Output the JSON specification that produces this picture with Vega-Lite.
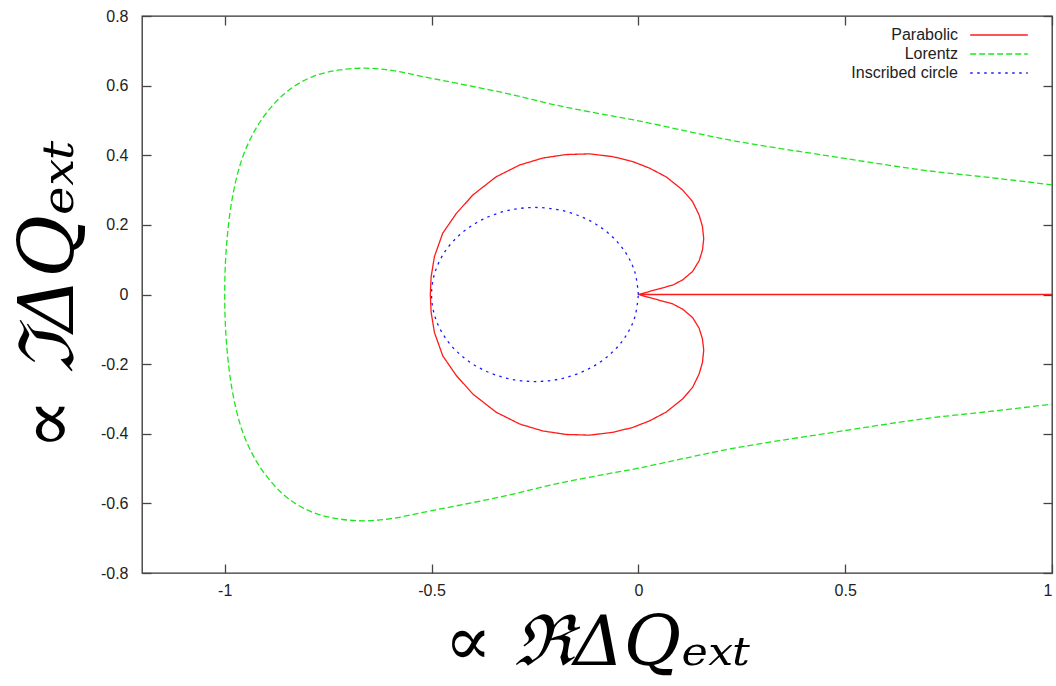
{
  "$schema": "https://vega.github.io/schema/vega-lite/v6.json",
  "width": 910,
  "height": 557,
  "autosize": "none",
  "padding": {"left": 142, "top": 16, "right": 4, "bottom": 113},
  "background": "white",
  "config": {
    "view": {"stroke": "#333", "strokeWidth": 1.3},
    "axis": {
      "domain": false,
      "grid": false,
      "tickSize": -9,
      "tickColor": "#444",
      "tickWidth": 1.3,
      "labelFont": "Liberation Sans",
      "labelFontSize": 16,
      "labelColor": "#222",
      "titleFont": "DejaVu Serif",
      "titleFontWeight": "normal",
      "titleFontStyle": "italic",
      "titleColor": "#000"
    },
    "legend": {
      "padding": 0,
      "symbolType": "M-3.6,0H3.6",
      "symbolSize": 256,
      "labelAlign": "right",
      "labelOffset": -50,
      "labelFont": "Liberation Sans",
      "labelFontSize": 16,
      "labelColor": "#222",
      "rowPadding": 2
    }
  },
  "data": {
    "values": [
      {"series": "Parabolic", "i": 0, "x": 1.0, "y": 0},
      {"series": "Parabolic", "i": 1, "x": 0.0, "y": 0},
      {"series": "Parabolic", "i": 2, "x": 0.04, "y": 0.013},
      {"series": "Parabolic", "i": 3, "x": 0.083, "y": 0.027},
      {"series": "Parabolic", "i": 4, "x": 0.107, "y": 0.042},
      {"series": "Parabolic", "i": 5, "x": 0.131, "y": 0.066},
      {"series": "Parabolic", "i": 6, "x": 0.147, "y": 0.097},
      {"series": "Parabolic", "i": 7, "x": 0.155, "y": 0.128},
      {"series": "Parabolic", "i": 8, "x": 0.158, "y": 0.16},
      {"series": "Parabolic", "i": 9, "x": 0.155, "y": 0.195},
      {"series": "Parabolic", "i": 10, "x": 0.147, "y": 0.228},
      {"series": "Parabolic", "i": 11, "x": 0.131, "y": 0.267},
      {"series": "Parabolic", "i": 12, "x": 0.107, "y": 0.3},
      {"series": "Parabolic", "i": 13, "x": 0.067, "y": 0.338},
      {"series": "Parabolic", "i": 14, "x": 0.027, "y": 0.363},
      {"series": "Parabolic", "i": 15, "x": -0.014, "y": 0.382},
      {"series": "Parabolic", "i": 16, "x": -0.062, "y": 0.396},
      {"series": "Parabolic", "i": 17, "x": -0.118, "y": 0.404},
      {"series": "Parabolic", "i": 18, "x": -0.175, "y": 0.402},
      {"series": "Parabolic", "i": 19, "x": -0.231, "y": 0.392},
      {"series": "Parabolic", "i": 20, "x": -0.287, "y": 0.372},
      {"series": "Parabolic", "i": 21, "x": -0.344, "y": 0.338},
      {"series": "Parabolic", "i": 22, "x": -0.4, "y": 0.286},
      {"series": "Parabolic", "i": 23, "x": -0.44, "y": 0.233},
      {"series": "Parabolic", "i": 24, "x": -0.473, "y": 0.176},
      {"series": "Parabolic", "i": 25, "x": -0.493, "y": 0.109},
      {"series": "Parabolic", "i": 26, "x": -0.501, "y": 0.051},
      {"series": "Parabolic", "i": 27, "x": -0.503, "y": 0},
      {"series": "Parabolic", "i": 28, "x": -0.501, "y": -0.051},
      {"series": "Parabolic", "i": 29, "x": -0.493, "y": -0.109},
      {"series": "Parabolic", "i": 30, "x": -0.473, "y": -0.176},
      {"series": "Parabolic", "i": 31, "x": -0.44, "y": -0.233},
      {"series": "Parabolic", "i": 32, "x": -0.4, "y": -0.286},
      {"series": "Parabolic", "i": 33, "x": -0.344, "y": -0.338},
      {"series": "Parabolic", "i": 34, "x": -0.287, "y": -0.372},
      {"series": "Parabolic", "i": 35, "x": -0.231, "y": -0.392},
      {"series": "Parabolic", "i": 36, "x": -0.175, "y": -0.402},
      {"series": "Parabolic", "i": 37, "x": -0.118, "y": -0.404},
      {"series": "Parabolic", "i": 38, "x": -0.062, "y": -0.396},
      {"series": "Parabolic", "i": 39, "x": -0.014, "y": -0.382},
      {"series": "Parabolic", "i": 40, "x": 0.027, "y": -0.363},
      {"series": "Parabolic", "i": 41, "x": 0.067, "y": -0.338},
      {"series": "Parabolic", "i": 42, "x": 0.107, "y": -0.3},
      {"series": "Parabolic", "i": 43, "x": 0.131, "y": -0.267},
      {"series": "Parabolic", "i": 44, "x": 0.147, "y": -0.228},
      {"series": "Parabolic", "i": 45, "x": 0.155, "y": -0.195},
      {"series": "Parabolic", "i": 46, "x": 0.158, "y": -0.16},
      {"series": "Parabolic", "i": 47, "x": 0.155, "y": -0.128},
      {"series": "Parabolic", "i": 48, "x": 0.147, "y": -0.097},
      {"series": "Parabolic", "i": 49, "x": 0.131, "y": -0.066},
      {"series": "Parabolic", "i": 50, "x": 0.107, "y": -0.042},
      {"series": "Parabolic", "i": 51, "x": 0.083, "y": -0.027},
      {"series": "Parabolic", "i": 52, "x": 0.04, "y": -0.013},
      {"series": "Parabolic", "i": 53, "x": 0.0, "y": 0},

      {"series": "Lorentz", "i": 0, "x": 1.0, "y": 0.315},
      {"series": "Lorentz", "i": 1, "x": 0.85, "y": 0.336},
      {"series": "Lorentz", "i": 2, "x": 0.703, "y": 0.355},
      {"series": "Lorentz", "i": 3, "x": 0.58, "y": 0.376},
      {"series": "Lorentz", "i": 4, "x": 0.461, "y": 0.398},
      {"series": "Lorentz", "i": 5, "x": 0.34, "y": 0.42},
      {"series": "Lorentz", "i": 6, "x": 0.22, "y": 0.444},
      {"series": "Lorentz", "i": 7, "x": 0.11, "y": 0.471},
      {"series": "Lorentz", "i": 8, "x": 0.0, "y": 0.499},
      {"series": "Lorentz", "i": 9, "x": -0.078, "y": 0.516},
      {"series": "Lorentz", "i": 10, "x": -0.199, "y": 0.544},
      {"series": "Lorentz", "i": 11, "x": -0.32, "y": 0.578},
      {"series": "Lorentz", "i": 12, "x": -0.44, "y": 0.607},
      {"series": "Lorentz", "i": 13, "x": -0.521, "y": 0.626},
      {"series": "Lorentz", "i": 14, "x": -0.593, "y": 0.643},
      {"series": "Lorentz", "i": 15, "x": -0.658, "y": 0.65},
      {"series": "Lorentz", "i": 16, "x": -0.722, "y": 0.645},
      {"series": "Lorentz", "i": 17, "x": -0.787, "y": 0.626},
      {"series": "Lorentz", "i": 18, "x": -0.843, "y": 0.589},
      {"series": "Lorentz", "i": 19, "x": -0.885, "y": 0.542},
      {"series": "Lorentz", "i": 20, "x": -0.924, "y": 0.478},
      {"series": "Lorentz", "i": 21, "x": -0.958, "y": 0.39},
      {"series": "Lorentz", "i": 22, "x": -0.982, "y": 0.275},
      {"series": "Lorentz", "i": 23, "x": -0.996, "y": 0.135},
      {"series": "Lorentz", "i": 24, "x": -1.0, "y": 0},
      {"series": "Lorentz", "i": 25, "x": -0.996, "y": -0.135},
      {"series": "Lorentz", "i": 26, "x": -0.982, "y": -0.275},
      {"series": "Lorentz", "i": 27, "x": -0.958, "y": -0.39},
      {"series": "Lorentz", "i": 28, "x": -0.924, "y": -0.478},
      {"series": "Lorentz", "i": 29, "x": -0.885, "y": -0.542},
      {"series": "Lorentz", "i": 30, "x": -0.843, "y": -0.589},
      {"series": "Lorentz", "i": 31, "x": -0.787, "y": -0.626},
      {"series": "Lorentz", "i": 32, "x": -0.722, "y": -0.645},
      {"series": "Lorentz", "i": 33, "x": -0.658, "y": -0.65},
      {"series": "Lorentz", "i": 34, "x": -0.593, "y": -0.643},
      {"series": "Lorentz", "i": 35, "x": -0.521, "y": -0.626},
      {"series": "Lorentz", "i": 36, "x": -0.44, "y": -0.607},
      {"series": "Lorentz", "i": 37, "x": -0.32, "y": -0.578},
      {"series": "Lorentz", "i": 38, "x": -0.199, "y": -0.544},
      {"series": "Lorentz", "i": 39, "x": -0.078, "y": -0.516},
      {"series": "Lorentz", "i": 40, "x": 0.0, "y": -0.499},
      {"series": "Lorentz", "i": 41, "x": 0.11, "y": -0.471},
      {"series": "Lorentz", "i": 42, "x": 0.22, "y": -0.444},
      {"series": "Lorentz", "i": 43, "x": 0.34, "y": -0.42},
      {"series": "Lorentz", "i": 44, "x": 0.461, "y": -0.398},
      {"series": "Lorentz", "i": 45, "x": 0.58, "y": -0.376},
      {"series": "Lorentz", "i": 46, "x": 0.703, "y": -0.355},
      {"series": "Lorentz", "i": 47, "x": 0.85, "y": -0.336},
      {"series": "Lorentz", "i": 48, "x": 1.0, "y": -0.315},

      {"series": "Inscribed circle", "i": 0, "x": 0.0, "y": 0},
      {"series": "Inscribed circle", "i": 1, "x": -0.0085, "y": 0.0647},
      {"series": "Inscribed circle", "i": 2, "x": -0.0335, "y": 0.125},
      {"series": "Inscribed circle", "i": 3, "x": -0.0732, "y": 0.1768},
      {"series": "Inscribed circle", "i": 4, "x": -0.125, "y": 0.2165},
      {"series": "Inscribed circle", "i": 5, "x": -0.1853, "y": 0.2415},
      {"series": "Inscribed circle", "i": 6, "x": -0.25, "y": 0.25},
      {"series": "Inscribed circle", "i": 7, "x": -0.3147, "y": 0.2415},
      {"series": "Inscribed circle", "i": 8, "x": -0.375, "y": 0.2165},
      {"series": "Inscribed circle", "i": 9, "x": -0.4268, "y": 0.1768},
      {"series": "Inscribed circle", "i": 10, "x": -0.4665, "y": 0.125},
      {"series": "Inscribed circle", "i": 11, "x": -0.4915, "y": 0.0647},
      {"series": "Inscribed circle", "i": 12, "x": -0.5, "y": 0},
      {"series": "Inscribed circle", "i": 13, "x": -0.4915, "y": -0.0647},
      {"series": "Inscribed circle", "i": 14, "x": -0.4665, "y": -0.125},
      {"series": "Inscribed circle", "i": 15, "x": -0.4268, "y": -0.1768},
      {"series": "Inscribed circle", "i": 16, "x": -0.375, "y": -0.2165},
      {"series": "Inscribed circle", "i": 17, "x": -0.3147, "y": -0.2415},
      {"series": "Inscribed circle", "i": 18, "x": -0.25, "y": -0.25},
      {"series": "Inscribed circle", "i": 19, "x": -0.1853, "y": -0.2415},
      {"series": "Inscribed circle", "i": 20, "x": -0.125, "y": -0.2165},
      {"series": "Inscribed circle", "i": 21, "x": -0.0732, "y": -0.1768},
      {"series": "Inscribed circle", "i": 22, "x": -0.0335, "y": -0.125},
      {"series": "Inscribed circle", "i": 23, "x": -0.0085, "y": -0.0647},
      {"series": "Inscribed circle", "i": 24, "x": 0.0, "y": 0}
    ]
  },
  "layer": [
    {
      "transform": [{"filter": "datum.series === 'Parabolic'"}],
      "mark": {"type": "line", "strokeCap": "butt", "strokeJoin": "round", "clip": true},
      "encoding": {
        "x": {
          "field": "x", "type": "quantitative",
          "scale": {"domain": [-1.2, 1], "nice": false, "zero": false},
          "axis": {"orient": "bottom", "values": [-1, -0.5, 0, 0.5, 1], "format": "~g",
                   "labelExpr": "replace(datum.label, '\u2212', '-')",
                   "labelPadding": 18, "title": "\u221d \u211c\u0394Q\u2091\u2093\u209c",
                   "titleFontSize": 70, "titlePadding": 11}
        },
        "y": {
          "field": "y", "type": "quantitative",
          "scale": {"domain": [-0.8, 0.8], "nice": false, "zero": false},
          "axis": {"orient": "left", "values": [-0.8, -0.6, -0.4, -0.2, 0, 0.2, 0.4, 0.6, 0.8], "format": "~g",
                   "labelExpr": "replace(datum.label, '\u2212', '-')",
                   "labelPadding": 23, "title": "\u221d \u2111\u0394Q\u2091\u2093\u209c",
                   "titleFontSize": 76, "titlePadding": 12}
        },
        "order": {"field": "i", "type": "quantitative"},
        "color": {
          "field": "series", "type": "nominal",
          "scale": {"domain": ["Parabolic", "Lorentz", "Inscribed circle"], "range": ["#ff1a1a", "#1ee61e", "#1a1aff"]},
          "legend": {"title": null, "orient": "none", "legendX": 848, "legendY": 10}
        },
        "strokeDash": {
          "field": "series", "type": "nominal",
          "scale": {"domain": ["Parabolic", "Lorentz", "Inscribed circle"], "range": [[1, 0], [6, 3], [2.5, 4.5]]},
          "legend": {"title": null, "orient": "none", "legendX": 848, "legendY": 10}
        },
        "strokeWidth": {
          "field": "series", "type": "nominal",
          "scale": {"domain": ["Parabolic", "Lorentz", "Inscribed circle"], "range": [1.3, 1.3, 2.6]},
          "legend": {"title": null, "orient": "none", "legendX": 848, "legendY": 10}
        }
      }
    },
    {
      "transform": [{"filter": "datum.series !== 'Parabolic'"}],
      "mark": {"type": "line", "strokeCap": "butt", "strokeJoin": "round", "interpolate": "catmull-rom", "clip": true},
      "encoding": {
        "x": {"field": "x", "type": "quantitative", "axis": null},
        "y": {"field": "y", "type": "quantitative", "axis": null},
        "order": {"field": "i", "type": "quantitative"},
        "color": {
          "field": "series", "type": "nominal",
          "legend": {"title": null, "orient": "none", "legendX": 848, "legendY": 10}
        },
        "strokeDash": {
          "field": "series", "type": "nominal",
          "legend": {"title": null, "orient": "none", "legendX": 848, "legendY": 10}
        },
        "strokeWidth": {
          "field": "series", "type": "nominal",
          "legend": {"title": null, "orient": "none", "legendX": 848, "legendY": 10}
        }
      }
    },
    {
      "mark": {"type": "point", "opacity": 0},
      "encoding": {
        "x": {
          "field": "x", "type": "quantitative",
          "axis": {"orient": "top", "values": [-1, -0.5, 0, 0.5, 1], "labels": false, "title": null}
        },
        "y": {
          "field": "y", "type": "quantitative",
          "axis": {"orient": "right", "values": [-0.8, -0.6, -0.4, -0.2, 0, 0.2, 0.4, 0.6, 0.8], "labels": false, "title": null}
        }
      }
    }
  ],
  "resolve": {"axis": {"x": "independent", "y": "independent"}}
}
